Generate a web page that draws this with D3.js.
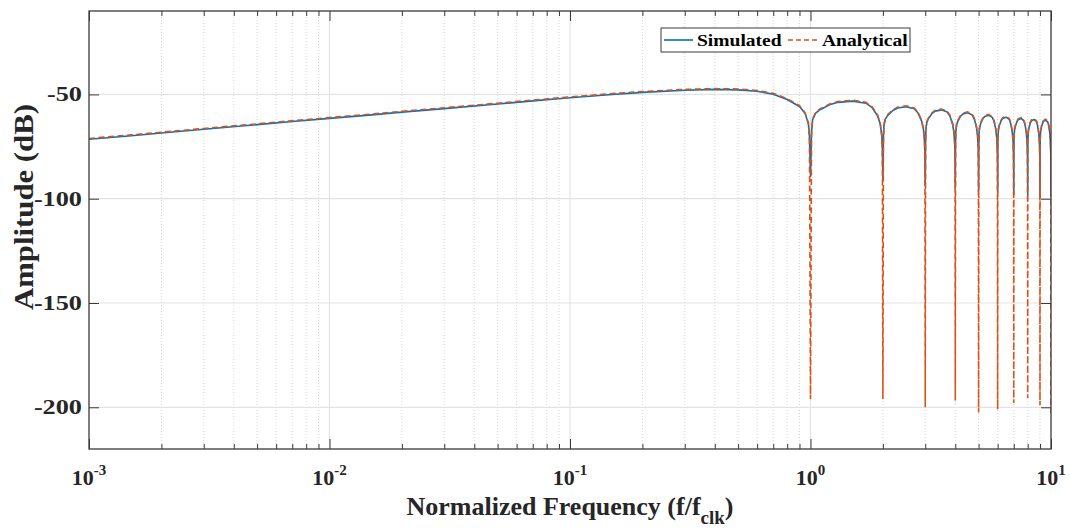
<!DOCTYPE html>
<html><head><meta charset="utf-8">
<script src="https://cdn.jsdelivr.net/npm/d3@7"></script>
<style>body{margin:0;background:#fff}</style>
</head><body><svg id="c" width="1070" height="530"></svg>
<script>
// ---------------- data ----------------
const freq = [
  0.001,0.0015,0.002,0.003,0.005,0.007,0.01,0.015,0.02,0.03,0.05,0.07,0.1,0.15,0.2,0.3,0.4,0.5,0.6,0.7,0.8,0.9,0.95,0.98,0.99,1,
  1.01,1.02,1.05,1.1,1.2,1.3,1.5,1.7,1.8,1.9,1.95,1.98,1.99,2,
  2.01,2.02,2.05,2.1,2.2,2.3,2.5,2.7,2.8,2.9,2.95,2.98,2.99,3,
  3.01,3.02,3.05,3.1,3.2,3.3,3.5,3.7,3.8,3.9,3.95,3.98,3.99,4,
  4.01,4.02,4.05,4.1,4.2,4.3,4.5,4.7,4.8,4.9,4.95,4.98,4.99,5,
  5.01,5.02,5.05,5.1,5.2,5.3,5.5,5.7,5.8,5.9,5.95,5.98,5.99,6,
  6.01,6.02,6.05,6.1,6.2,6.3,6.5,6.7,6.8,6.9,6.95,6.98,6.99,7,
  7.01,7.02,7.05,7.1,7.2,7.3,7.5,7.7,7.8,7.9,7.95,7.98,7.99,8,
  8.01,8.02,8.05,8.1,8.2,8.3,8.5,8.7,8.8,8.9,8.95,8.98,8.99,9,
  9.01,9.02,9.05,9.1,9.2,9.3,9.5,9.7,9.8,9.9,9.95,9.98,9.99,10
];
const simulated = [
  -71.5,-69.8,-68.5,-66.7,-64.5,-63.0,-61.5,-59.8,-58.5,-56.8,-54.6,-53.1,-51.6,-50.0,-49.0,-48.0,-47.6,-47.8,-48.5,-49.9,-52.4,-55.8,-59.2,-64.0,-70.0,-89.2,
  -68.2,-62.2,-59.0,-57.2,-55.0,-53.8,-53.2,-54.2,-56.2,-60.2,-64.2,-70.2,-76.2,-90.7,
  -70.9,-64.9,-61.7,-59.9,-57.7,-56.5,-55.9,-56.9,-58.9,-62.9,-66.9,-72.9,-78.9,-94.0,
  -72.4,-66.4,-63.2,-61.4,-59.2,-58.0,-57.4,-58.4,-60.4,-64.4,-68.4,-74.4,-80.4,-94.6,
  -73.8,-67.8,-64.6,-62.8,-60.6,-59.4,-58.8,-59.8,-61.8,-65.8,-69.8,-75.8,-81.8,-96.4,
  -75.0,-69.0,-65.8,-64.0,-61.8,-60.6,-60.0,-61.0,-63.0,-67.0,-71.0,-77.0,-83.0,-97.0,
  -75.9,-69.9,-66.7,-64.9,-62.7,-61.5,-60.9,-61.9,-63.9,-67.9,-71.9,-77.9,-83.9,-98.0,
  -76.5,-70.5,-67.3,-65.5,-63.3,-62.1,-61.5,-62.5,-64.5,-68.5,-72.5,-78.5,-84.5,-98.5,
  -77.0,-71.0,-67.8,-66.0,-63.8,-62.6,-62.0,-63.0,-65.0,-69.0,-73.0,-79.0,-85.0,-99.4,
  -77.3,-71.3,-68.1,-66.3,-64.1,-62.9,-62.3,-63.3,-65.3,-69.3,-73.3,-79.3,-85.3,-99.0
];
const analytical = [
  -71.1,-69.4,-68.1,-66.3,-64.1,-62.6,-61.1,-59.4,-58.1,-56.4,-54.2,-52.7,-51.2,-49.6,-48.6,-47.6,-47.2,-47.4,-48.1,-49.5,-52.0,-55.4,-58.8,-63.6,-72.0,-196.0,
  -70.2,-61.8,-58.6,-56.8,-54.6,-53.4,-52.8,-53.8,-55.8,-59.8,-63.8,-69.8,-78.2,-196.0,
  -72.9,-64.5,-61.3,-59.5,-57.3,-56.1,-55.5,-56.5,-58.5,-62.5,-66.5,-72.5,-80.9,-200.0,
  -74.4,-66.0,-62.8,-61.0,-58.8,-57.6,-57.0,-58.0,-60.0,-64.0,-68.0,-74.0,-82.4,-196.7,
  -75.8,-67.4,-64.2,-62.4,-60.2,-59.0,-58.4,-59.4,-61.4,-65.4,-69.4,-75.4,-83.8,-202.5,
  -77.0,-68.6,-65.4,-63.6,-61.4,-60.2,-59.6,-60.6,-62.6,-66.6,-70.6,-76.6,-85.0,-201.0,
  -77.9,-69.5,-66.3,-64.5,-62.3,-61.1,-60.5,-61.5,-63.5,-67.5,-71.5,-77.5,-85.9,-198.0,
  -78.5,-70.1,-66.9,-65.1,-62.9,-61.7,-61.1,-62.1,-64.1,-68.1,-72.1,-78.1,-86.5,-195.5,
  -79.0,-70.6,-67.4,-65.6,-63.4,-62.2,-61.6,-62.6,-64.6,-68.6,-72.6,-78.6,-87.0,-199.0,
  -79.3,-70.9,-67.7,-65.9,-63.7,-62.5,-61.9,-62.9,-64.9,-68.9,-72.9,-78.9,-87.3,-203.0
];
const xTickExponents = [-3, -2, -1, 0, 1];
const yTickValues = [-50, -100, -150, -200];
const seriesNames = ["Simulated", "Analytical"];
const xLabel = "Normalized Frequency (f/f";
const xLabelSub = "clk";
const yLabel = "Amplitude (dB)";

// ---------------- layout ----------------
const L = 89, R = 1051, T = 11, B = 449;
const FONT = "'Liberation Serif','Times New Roman',serif";
const svg = d3.select("#c");
const x = d3.scaleLog().domain([1e-3, 10]).range([L, R]);
const y = d3.scaleLinear().domain([-220, -10]).range([B, T]);

svg.append("rect").attr("x", L).attr("y", T).attr("width", R - L).attr("height", B - T).attr("fill", "#fff");

// minor x grid (dotted) and major grid
const minorVals = [];
for (let e = -3; e < 1; e++) for (let m = 2; m <= 9; m++) minorVals.push(m * Math.pow(10, e));
const grid = svg.append("g");
grid.selectAll("line.mx").data(minorVals).enter().append("line")
  .attr("x1", d => x(d)).attr("x2", d => x(d)).attr("y1", T).attr("y2", B)
  .attr("stroke", "#d4d4d4").attr("stroke-width", 1).attr("stroke-dasharray", "1,2");
const majorVals = xTickExponents.map(e => Math.pow(10, e));
grid.selectAll("line.Mx").data(majorVals.slice(1, -1)).enter().append("line")
  .attr("x1", d => x(d)).attr("x2", d => x(d)).attr("y1", T).attr("y2", B)
  .attr("stroke", "#e3e3e3").attr("stroke-width", 1.2);
grid.selectAll("line.My").data(yTickValues).enter().append("line")
  .attr("x1", L).attr("x2", R).attr("y1", d => y(d)).attr("y2", d => y(d))
  .attr("stroke", "#e3e3e3").attr("stroke-width", 1.2);

// clip
svg.append("clipPath").attr("id", "clip").append("rect")
  .attr("x", L).attr("y", T).attr("width", R - L).attr("height", B - T);

const pts = (vals) => freq.map((f, i) => [f, vals[i]]);
const line = d3.line().x(d => x(d[0])).y(d => y(d[1]));
const plot = svg.append("g").attr("clip-path", "url(#clip)");
plot.append("path").datum(pts(simulated)).attr("d", line)
  .attr("fill", "none").attr("stroke", "#0072BD").attr("stroke-width", 1.6).attr("stroke-linejoin", "round");
plot.append("path").datum(pts(analytical)).attr("d", line)
  .attr("fill", "none").attr("stroke", "#D95319").attr("stroke-width", 1.6).attr("stroke-dasharray", "6,3.5");

// axes (box with inward ticks on all sides)
const axBottom = d3.axisBottom(x).tickValues(majorVals).tickSize(-10).tickFormat("");
const axTop = d3.axisTop(x).tickValues(majorVals).tickSize(-10).tickFormat("");
const axBottomMinor = d3.axisBottom(x).tickValues(minorVals).tickSize(-5).tickFormat("");
const axTopMinor = d3.axisTop(x).tickValues(minorVals).tickSize(-5).tickFormat("");
const axLeft = d3.axisLeft(y).tickValues(yTickValues).tickSize(-10).tickFormat("");
const axRight = d3.axisRight(y).tickValues(yTickValues).tickSize(-10).tickFormat("");
[[axBottom, `translate(0,${B})`], [axBottomMinor, `translate(0,${B})`],
 [axTop, `translate(0,${T})`], [axTopMinor, `translate(0,${T})`],
 [axLeft, `translate(${L},0)`], [axRight, `translate(${R},0)`]].forEach(([a, tr]) => {
  const g = svg.append("g").attr("transform", tr).call(a);
  g.select(".domain").remove();
  g.selectAll(".tick line").attr("stroke", "#3a3a3a").attr("stroke-width", 1);
});
svg.append("rect").attr("x", L).attr("y", T).attr("width", R - L).attr("height", B - T)
  .attr("fill", "none").attr("stroke", "#3a3a3a").attr("stroke-width", 1.3);

// y tick labels
svg.append("g").selectAll("text").data(yTickValues).enter().append("text")
  .attr("transform", d => `translate(82,${y(d) + 7}) scale(1.25,1)`)
  .attr("text-anchor", "end").attr("font-family", FONT).attr("font-weight", "bold")
  .attr("font-size", 21).attr("fill", "#262626").text(d => d);

// x tick labels with superscript exponent
const xt = svg.append("g").selectAll("text").data(xTickExponents).enter().append("text")
  .attr("x", d => x(Math.pow(10, d))).attr("y", 485)
  .attr("text-anchor", "middle").attr("font-family", FONT).attr("font-weight", "bold")
  .attr("font-size", 22).attr("fill", "#262626");
xt.append("tspan").text("10");
xt.append("tspan").attr("dy", -10).attr("font-size", 15).text(d => d);

// x label
const xl = svg.append("text").attr("x", 570).attr("y", 515).attr("text-anchor", "middle")
  .attr("font-family", FONT).attr("font-weight", "bold").attr("font-size", 26).attr("fill", "#262626");
xl.append("tspan").text(xLabel);
xl.append("tspan").attr("dy", 9).attr("font-size", 19).text(xLabelSub);
xl.append("tspan").attr("dy", -9).text(")");

// y label
svg.append("text").attr("transform", "translate(33,207) rotate(-90) scale(1.14,1)")
  .attr("text-anchor", "middle").attr("font-family", FONT).attr("font-weight", "bold")
  .attr("font-size", 27).attr("fill", "#262626").text(yLabel);

// legend
const lg = svg.append("g");
lg.append("rect").attr("x", 661).attr("y", 28).attr("width", 249).attr("height", 24)
  .attr("fill", "#fff").attr("stroke", "#3a3a3a").attr("stroke-width", 1);
const legendItems = [
  { name: seriesNames[0], color: "#0072BD", dash: null, x0: 664, x1: 693, tx: 697 },
  { name: seriesNames[1], color: "#D95319", dash: "5,3", x0: 788, x1: 820, tx: 822 }
];
legendItems.forEach(it => {
  lg.append("line").attr("x1", it.x0).attr("x2", it.x1).attr("y1", 40).attr("y2", 40)
    .attr("stroke", it.color).attr("stroke-width", 1.6).attr("stroke-dasharray", it.dash);
  lg.append("text").attr("transform", `translate(${it.tx},46) scale(1.15,1)`)
    .attr("font-family", FONT).attr("font-weight", "bold").attr("font-size", 17)
    .attr("fill", "#000").text(it.name);
});
</script></body></html>
